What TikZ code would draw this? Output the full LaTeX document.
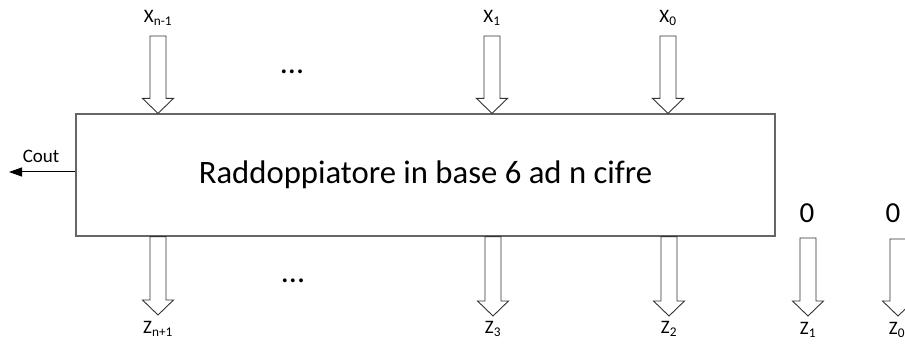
\documentclass[tikz,border=0pt]{standalone}
\usepackage{fontspec}
\setmainfont{Carlito}
\usetikzlibrary{arrows.meta}
\usetikzlibrary{calc}

\begin{document}
\begin{tikzpicture}[x=1pt,y=1pt,
    blockarrow/.style={draw=black!80,line width=0.9pt,fill=white,line join=miter},
    lbl/.style={inner sep=0pt,font=\fontsize{19}{21}\selectfont},
    zerolbl/.style={inner sep=0pt,font=\fontsize{29}{31}\selectfont},
    dotslbl/.style={inner sep=0pt,font=\fontsize{32}{34}\selectfont}]
  \pgfmathsetmacro{\shaftw}{8}
  \pgfmathsetmacro{\headw}{15.5}
  \pgfmathsetmacro{\headl}{15}

  % Hollow block arrow pointing down from #1 to #2
  \def\blockarrow(#1)(#2){
    \draw[blockarrow] let \p1=(#1), \p2=(#2) in
      (\x1-\shaftw pt,\y1) -- (\x1+\shaftw pt,\y1) --
      (\x1+\shaftw pt,\y2+\headl pt) -- (\x1+\headw pt,\y2+\headl pt) --
      (\x1,\y2) -- (\x1-\headw pt,\y2+\headl pt) --
      (\x1-\shaftw pt,\y2+\headl pt) -- cycle;
  }

  \useasboundingbox (0,0) rectangle (905,345);

  % Draw main block
  \node[draw=black!60,line width=1.2pt,minimum width=699pt,minimum height=122pt,
        inner sep=0pt,font=\fontsize{32.7}{36}\selectfont]
        (box) at (425.5,170) {Raddoppiatore in base 6 ad n cifre};

  % Draw input digits
  \coordinate (xn1) at (158,309);
  \coordinate (x1) at (492,309);
  \coordinate (x0) at (668,309);
  \blockarrow(xn1)(xn1 |- box.north)
  \blockarrow(x1)(x1 |- box.north)
  \blockarrow(x0)(x0 |- box.north)
  \node[lbl] (xn1lbl) at (158,327) {X\textsubscript{n-1}};
  \node[lbl] (x1lbl) at (492,327) {X\textsubscript{1}};
  \node[lbl] (x0lbl) at (668,327) {X\textsubscript{0}};
  \node[dotslbl] (topdots) at (292,273) {...};

  % Draw output digits
  \coordinate (zn1) at (158,30);
  \coordinate (z3) at (493,29);
  \coordinate (z2) at (669,29);
  \blockarrow(box.south -| zn1)(zn1)
  \blockarrow(box.south -| z3)(z3)
  \blockarrow(box.south -| z2)(z2)
  \node[lbl] (zn1lbl) at (158,16) {Z\textsubscript{n+1}};
  \node[lbl] (z3lbl) at (493,16) {Z\textsubscript{3}};
  \node[lbl] (z2lbl) at (669,16) {Z\textsubscript{2}};
  \node[dotslbl] (botdots) at (293,64) {...};

  % Draw constant low digits
  \node[zerolbl] (zero1) at (807,132) {0};
  \node[zerolbl] (zero0) at (893,132) {0};
  \coordinate (z1top) at (808,107);
  \coordinate (z0top) at (898,106);
  \coordinate (z1) at (808,29);
  \coordinate (z0) at (898,29);
  \blockarrow(z1top)(z1)
  \blockarrow(z0top)(z0)
  \node[lbl] (z1lbl) at (808,15) {Z\textsubscript{1}};
  \node[lbl] (z0lbl) at (897,15) {Z\textsubscript{0}};

  % Draw carry out
  \coordinate (cout) at (9,173);
  \draw[-{Triangle[length=13pt,width=9pt]},line width=1pt] (box.west |- cout) -- (cout);
  \node[lbl] (coutlbl) at (41,189) {Cout};
\end{tikzpicture}
\end{document}
